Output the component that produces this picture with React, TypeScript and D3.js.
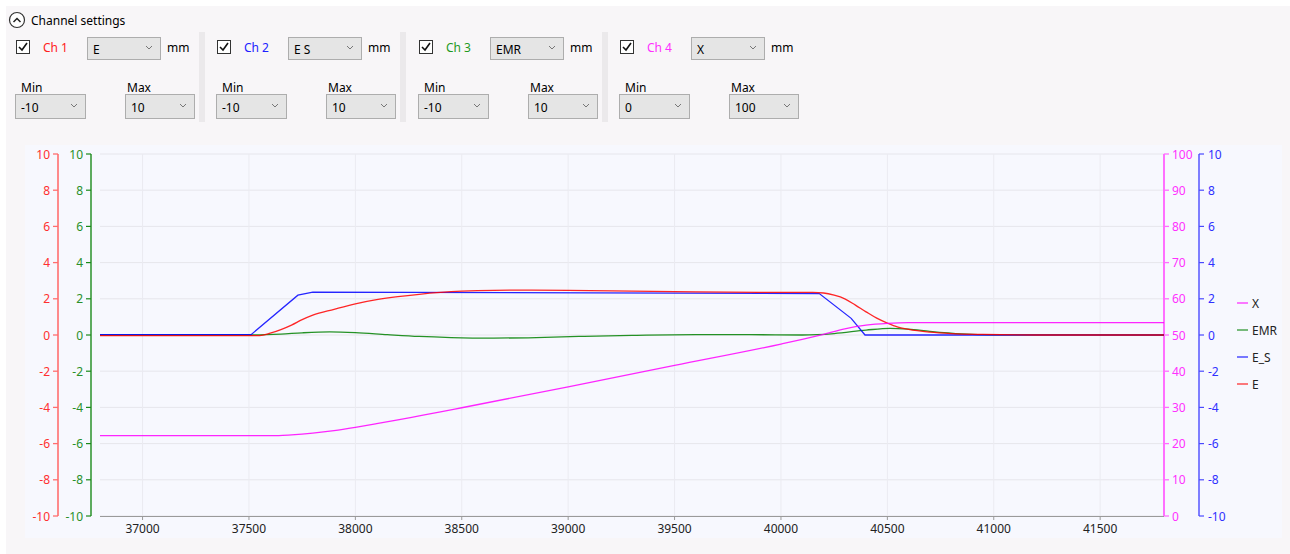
import React from "react";
import * as d3 from "d3";

// ---------- data ----------
const xTicks = [37000, 37500, 38000, 38500, 39000, 39500, 40000, 40500, 41000, 41500];
const leftTicks = [-10, -8, -6, -4, -2, 0, 2, 4, 6, 8, 10];
const pctTicks = [0, 10, 20, 30, 40, 50, 60, 70, 80, 90, 100];
const xDomain = [36800, 41800];

const seriesE: [number, number][] = [
  [36800, -0.03], [37550, -0.03], [37600, 0.1], [37650, 0.3], [37700, 0.55], [37750, 0.85],
  [37800, 1.1], [37900, 1.42], [38000, 1.72], [38100, 1.95], [38200, 2.12], [38300, 2.25],
  [38400, 2.35], [38500, 2.42], [38650, 2.47], [38800, 2.48], [39000, 2.46], [39300, 2.42],
  [39600, 2.38], [39900, 2.36], [40150, 2.35], [40200, 2.32], [40250, 2.2], [40300, 2.0],
  [40350, 1.65], [40400, 1.28], [40450, 0.93], [40500, 0.66], [40550, 0.44], [40600, 0.31],
  [40700, 0.16], [40800, 0.08], [40950, 0.03], [41200, 0.0], [41800, 0.0],
];
const seriesES: [number, number][] = [
  [36800, 0.02], [37510, 0.02], [37730, 2.2], [37800, 2.37], [40180, 2.29],
  [40330, 0.92], [40395, 0.0], [41800, 0.0],
];
const seriesEMR: [number, number][] = [
  [36800, 0], [37500, 0], [37650, 0.05], [37750, 0.12], [37880, 0.17], [38000, 0.13],
  [38150, 0.02], [38300, -0.08], [38450, -0.14], [38650, -0.17], [38850, -0.14],
  [39050, -0.08], [39300, -0.02], [39600, 0.02], [39850, 0.02], [40100, 0.0], [40250, 0.08],
  [40400, 0.27], [40512, 0.37], [40600, 0.32], [40700, 0.2], [40850, 0.06], [41000, 0.01],
  [41800, 0],
];
const seriesX: [number, number][] = [
  [36800, 22.2], [37640, 22.2], [37700, 22.4], [37800, 22.9], [37900, 23.6], [38000, 24.5],
  [38100, 25.5], [38200, 26.55], [38300, 27.65], [38400, 28.75], [38500, 29.9], [39000, 35.7],
  [39500, 41.6], [40000, 47.5], [40100, 48.8], [40200, 50.2], [40300, 51.7], [40400, 52.7],
  [40500, 53.2], [40600, 53.4], [41800, 53.4],
];

const channelNames = ["Ch 1", "Ch 2", "Ch 3", "Ch 4"];
const channelSignals = ["E", "E S", "EMR", "X"];
const channelMins = ["-10", "-10", "-10", "0"];
const channelMaxs = ["10", "10", "10", "100"];
const legendNames = ["X", "EMR", "E_S", "E"];

// ---------- styles ----------
const FONT = "'Noto Sans', 'Open Sans', sans-serif";
const RED = "#ff0000";
const BLUE = "#0000ff";
const GREEN = "#008000";
const MAG = "#ff00ff";
const chColors = ["#ff2020", "#2020ff", "#1e9a1e", "#ff30ff"];

const PL = 100, PR = 1164, PT = 154, PB = 516;

function Dropdown({ x, y, w, h, text }: { x: number; y: number; w: number; h: number; text: string }) {
  return (
    <g>
      <rect x={x + 0.5} y={y + 0.5} width={w} height={h} fill="#e5e5e5" stroke="#adadad" />
      <text x={x + 6} y={y + h / 2 + 6} fontSize={12} fill="#000" fontFamily={FONT}>{text}</text>
      <path d={`M${x + w - 14},${y + h / 2 - 2} l3,3 l3,-3`} fill="none" stroke="#777" strokeWidth={1} />
    </g>
  );
}

function Checkbox({ x, y }: { x: number; y: number }) {
  return (
    <g>
      <rect x={x + 0.5} y={y + 0.5} width={13} height={13} fill="#fff" stroke="#333" />
      <path d={`M${x + 3},${y + 7} l3,3 l5,-7`} fill="none" stroke="#111" strokeWidth={1.6} />
    </g>
  );
}

export default function App() {
  const x = d3.scaleLinear().domain(xDomain).range([PL, PR]);
  const yL = d3.scaleLinear().domain([-10, 10]).range([PB, PT]);
  const yP = d3.scaleLinear().domain([0, 100]).range([PB, PT]);

  const mk = (ys: d3.ScaleLinear<number, number>, curve: d3.CurveFactory) =>
    d3.line<[number, number]>().x((d) => x(d[0])).y((d) => ys(d[1])).curve(curve);

  const lines = [
    { d: mk(yL, d3.curveMonotoneX)(seriesEMR), c: GREEN },
    { d: mk(yL, d3.curveLinear)(seriesES), c: BLUE },
    { d: mk(yL, d3.curveMonotoneX)(seriesE), c: RED },
    { d: mk(yP, d3.curveMonotoneX)(seriesX), c: MAG },
  ];
  const legendColors = [MAG, GREEN, BLUE, RED];
  const groupOffsets = [0, 201, 403, 604];

  return (
    <div style={{ position: "absolute", left: 0, top: 0 }}>
      <svg width={1290} height={554} style={{ display: "block" }} fontFamily={FONT}>
        <rect x={0} y={0} width={1290} height={554} fill="#ffffff" />
        <rect x={6} y={6} width={1284} height={548} fill="#f8f6f8" />

        {/* header */}
        <circle cx={17} cy={20} r={7.5} fill="#fff" stroke="#333" strokeWidth={1.2} />
        <path d="M13.5,22 l3.5,-3.5 l3.5,3.5" fill="none" stroke="#222" strokeWidth={1.5} />
        <text x={31} y={25} fontSize={12} fill="#000">Channel settings</text>

        {channelNames.map((name, i) => {
          const o = groupOffsets[i];
          return (
            <g key={name}>
              {i < 3 && <rect x={199 + o} y={32} width={6} height={90} fill="#ebe9eb" />}
              <Checkbox x={16 + o} y={40} />
              <text x={43 + o} y={52} fontSize={12} fill={chColors[i]}>{name}</text>
              <Dropdown x={87 + o} y={37} w={73} h={22} text={channelSignals[i]} />
              <text x={167 + o} y={52} fontSize={12} fill="#000">mm</text>
              <text x={21 + o} y={92} fontSize={12} fill="#000">Min</text>
              <Dropdown x={15 + o} y={94} w={70} h={24} text={channelMins[i]} />
              <text x={127 + o} y={92} fontSize={12} fill="#000">Max</text>
              <Dropdown x={125 + o} y={94} w={69} h={24} text={channelMaxs[i]} />
            </g>
          );
        })}

        {/* chart area */}
        <rect x={25} y={145} width={1257} height={393} fill="#f7f8fe" />

        {/* grid */}
        {leftTicks.map((t) => (
          <line key={"hg" + t} x1={PL} x2={PR} y1={yL(t)} y2={yL(t)} stroke="#e6e6ec" strokeWidth={1} />
        ))}
        {xTicks.map((t) => (
          <line key={"vg" + t} x1={x(t)} x2={x(t)} y1={PT} y2={PB} stroke="#ebebf1" strokeWidth={1} />
        ))}

        {/* x axis */}
        <line x1={PL} x2={PR} y1={PB + 0.5} y2={PB + 0.5} stroke="#9a9a9a" strokeWidth={1.2} />
        {xTicks.map((t) => (
          <g key={"xt" + t}>
            <line x1={x(t)} x2={x(t)} y1={PB} y2={PB + 4} stroke="#9a9a9a" />
            <text x={x(t)} y={PB + 17} fontSize={12} fill="#222" textAnchor="middle">{t}</text>
          </g>
        ))}

        {/* red left axis */}
        <line x1={58} x2={58} y1={PT} y2={PB} stroke="#ff6e6e" strokeWidth={1.6} />
        {leftTicks.map((t) => (
          <g key={"ra" + t}>
            <line x1={53} x2={58} y1={yL(t)} y2={yL(t)} stroke="#ff6e6e" strokeWidth={1.3} />
            <text x={50} y={yL(t) + 4.5} fontSize={12} fill="#ff3030" textAnchor="end">{t}</text>
          </g>
        ))}
        {/* green left axis */}
        <line x1={91} x2={91} y1={PT} y2={PB} stroke="#1a8a1a" strokeWidth={1.4} />
        {leftTicks.map((t) => (
          <g key={"ga" + t}>
            <line x1={86} x2={91} y1={yL(t)} y2={yL(t)} stroke="#1a8a1a" strokeWidth={1.2} />
            <text x={83} y={yL(t) + 4.5} fontSize={12} fill="#2a902a" textAnchor="end">{t}</text>
          </g>
        ))}
        {/* magenta right axis */}
        <line x1={PR} x2={PR} y1={PT} y2={PB} stroke="#ff70ff" strokeWidth={2} />
        {pctTicks.map((t) => (
          <g key={"ma" + t}>
            <line x1={PR} x2={PR + 5} y1={yP(t)} y2={yP(t)} stroke="#ff70ff" strokeWidth={1.3} />
            <text x={PR + 8} y={yP(t) + 4.5} fontSize={12} fill="#ff30ff">{t}</text>
          </g>
        ))}
        {/* blue right axis */}
        <line x1={1199} x2={1199} y1={PT} y2={PB} stroke="#4a4aff" strokeWidth={1.4} />
        {leftTicks.map((t) => (
          <g key={"ba" + t}>
            <line x1={1199} x2={1204} y1={yL(t)} y2={yL(t)} stroke="#4a4aff" strokeWidth={1.2} />
            <text x={1208} y={yL(t) + 4.5} fontSize={12} fill="#3030ff">{t}</text>
          </g>
        ))}

        {/* series */}
        {lines.map((l, i) => (
          <path key={"s" + i} d={l.d || ""} fill="none" stroke={l.c} strokeWidth={1.3} strokeOpacity={0.85} />
        ))}

        {/* legend */}
        {legendNames.map((n, i) => (
          <g key={"lg" + n}>
            <line x1={1237} x2={1248} y1={303 + i * 27} y2={303 + i * 27} stroke={legendColors[i]} strokeWidth={1.3} strokeOpacity={0.8} />
            <text x={1252} y={303 + i * 27 + 4.5} fontSize={12} fill="#222">{n}</text>
          </g>
        ))}
      </svg>
    </div>
  );
}
